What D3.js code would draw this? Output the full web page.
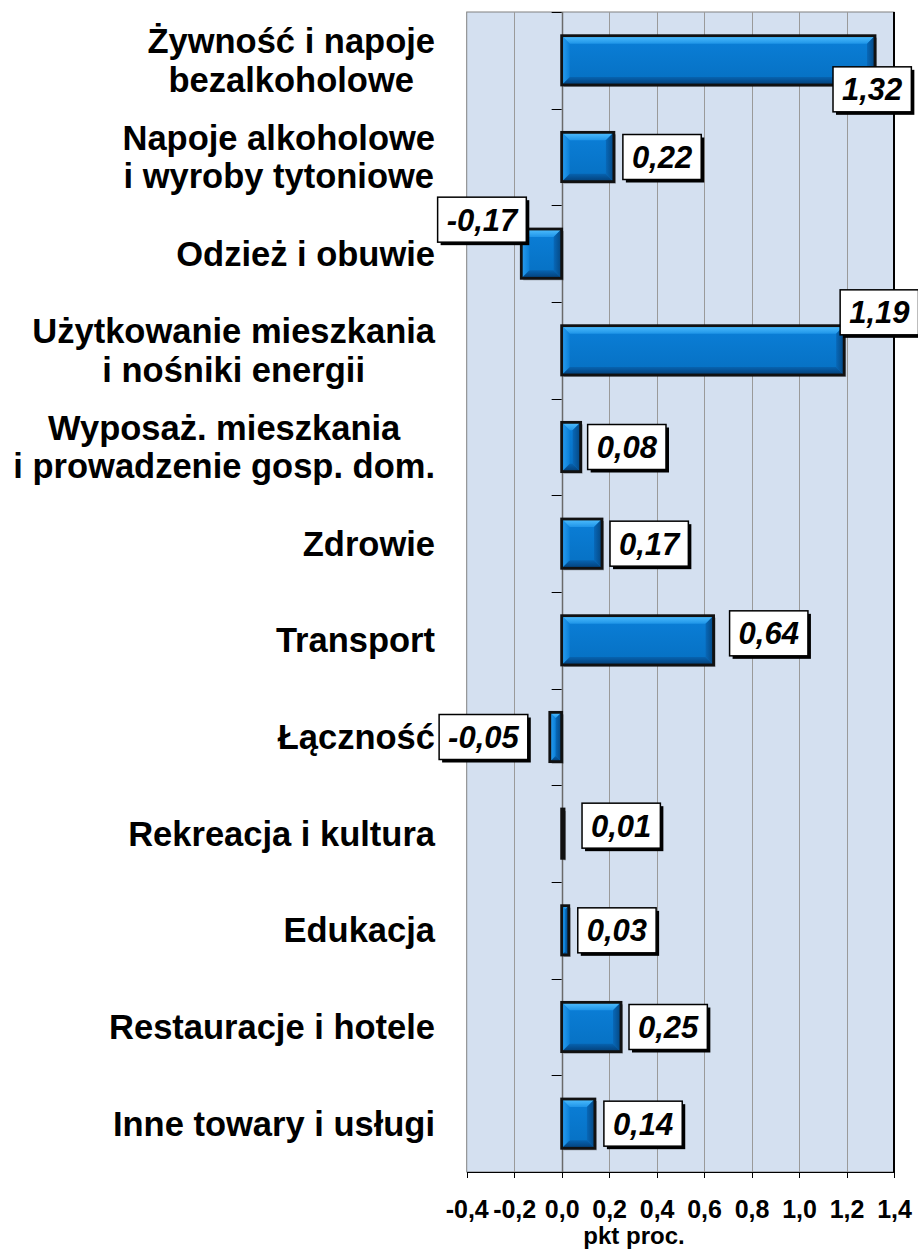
<!DOCTYPE html>
<html>
<head>
<meta charset="utf-8">
<title>Wkład do wskaźnika cen</title>
<style>
body {
  margin: 0;
  background: #fff;
  font-family: "Liberation Sans", Arial, sans-serif;
}
.cat-label {
  font-size: 34.5px;
  font-weight: 700;
  fill: #000;
}
.x.axis text {
  font-size: 25px;
  font-weight: 700;
  fill: #000;
  font-family: "Liberation Sans", Arial, sans-serif;
}
.x.axis path, .x.axis line {
  stroke: #000;
  shape-rendering: crispEdges;
}
.value-label {
  font-size: 31px;
  font-weight: 700;
  font-style: italic;
}
.axis-title {
  font-size: 24px;
  font-weight: 700;
}
</style>
</head>
<body>
<div id="vis"></div>
<script src="https://d3js.org/d3.v7.min.js"></script>
<script>

// Data
var categories = [
  ["Żywność i napoje", "bezalkoholowe"],
  ["Napoje alkoholowe", "i wyroby tytoniowe"],
  ["Odzież i obuwie"],
  ["Użytkowanie mieszkania", "i nośniki energii"],
  ["Wyposaż. mieszkania", "i prowadzenie gosp. dom."],
  ["Zdrowie"],
  ["Transport"],
  ["Łączność"],
  ["Rekreacja i kultura"],
  ["Edukacja"],
  ["Restauracje i hotele"],
  ["Inne towary i usługi"]
];
var values = [1.32, 0.22, -0.17, 1.19, 0.08, 0.17, 0.64, -0.05, 0.01, 0.03, 0.25, 0.14];
var xTicks = [-0.4, -0.2, 0.0, 0.2, 0.4, 0.6, 0.8, 1.0, 1.2, 1.4];
var xTitle = "pkt proc.";

// Label boxes were placed by hand in the original, nudge them the same way
// [dx from bar end, dy from band centre]
var labelNudge = [
  [-42, 29], [9, 0], [-5, -34], [-4, -38], [7, 0], [8, 0],
  [16, -7], [22, 0], [18, -8], [9, 0], [8, 0], [9, 0]
];

var width = 918, height = 1249;
var plot = {left: 466.7, right: 894, top: 12, bottom: 1172};

var pl = d3.formatLocale({decimal: ",", thousands: " ", grouping: [3], currency: ["", ""], minus: "-"});
var fmtTick = pl.format(".1f"),
    fmtVal = pl.format(".2f");

var svg = d3.select("#vis").append("svg")
    .attr("width", width)
    .attr("height", height);

var defs = svg.append("defs");
function grad(id, x2, y2, stops) {
  var g = defs.append("linearGradient").attr("id", id)
    .attr("x1", 0).attr("y1", 0).attr("x2", x2).attr("y2", y2);
  stops.forEach(function(s) {
    g.append("stop").attr("offset", s[0]).attr("stop-color", s[1]);
  });
}
grad("face", 0, 1, [[0, "#0b7fd8"], [1, "#0670c2"]]);
grad("bevTop", 0, 1, [[0, "#52c0ff"], [1, "#1f95e8"]]);
grad("bevBot", 0, 1, [[0, "#0763b0"], [1, "#033e76"]]);
grad("bevLeft", 1, 0, [[0, "#2a9ef0"], [1, "#0b80d8"]]);
grad("bevRight", 1, 0, [[0, "#0868b8"], [1, "#044680"]]);

var x = d3.scaleLinear()
    .domain([-0.4, 1.4])
    .range([plot.left, plot.right]);

var y = d3.scaleBand()
    .domain(d3.range(categories.length))
    .range([plot.top, plot.bottom])
    .paddingInner(0.49)
    .paddingOuter(0.245);

// Plot background
svg.append("rect")
    .attr("x", plot.left).attr("y", plot.top)
    .attr("width", plot.right - plot.left).attr("height", plot.bottom - plot.top)
    .attr("fill", "#d4e0f0")
    .attr("stroke", "#808080");

// Grid
svg.append("g").selectAll("line")
  .data(xTicks.filter(function(d) { return d > -0.4 && d < 1.4; }))
  .enter().append("line")
    .attr("x1", function(d) { return Math.round(x(d)) + 0.5; })
    .attr("x2", function(d) { return Math.round(x(d)) + 0.5; })
    .attr("y1", plot.top).attr("y2", plot.bottom)
    .attr("stroke", function(d) { return d === 0 ? "#6a6a6a" : "#9a9a9a"; })
    .attr("stroke-width", function(d) { return d === 0 ? 1.5 : 1; });

svg.append("line")
    .attr("x1", plot.right).attr("x2", plot.right)
    .attr("y1", plot.top).attr("y2", plot.bottom)
    .attr("stroke", "#000").attr("stroke-width", 2);

// Category ticks on the zero line
var step = y.step();
svg.append("g").selectAll("line")
  .data(d3.range(categories.length + 1))
  .enter().append("line")
    .attr("x1", x(0) - 10).attr("x2", x(0))
    .attr("y1", function(i) { return Math.round(plot.top + i * step) + 0.5; })
    .attr("y2", function(i) { return Math.round(plot.top + i * step) + 0.5; })
    .attr("stroke", "#000");

// X axis
var xAxis = d3.axisBottom(x)
    .tickValues(xTicks)
    .tickSize(6)
    .tickPadding(22)
    .tickFormat(fmtTick);

svg.append("g")
    .attr("class", "x axis")
    .attr("transform", "translate(0," + plot.bottom + ")")
    .call(xAxis);

svg.append("text")
    .attr("class", "axis-title")
    .attr("x", 634).attr("y", 1244)
    .attr("text-anchor", "middle")
    .text(xTitle);

// Category labels
var lineH = 38.5;
svg.append("g").selectAll("text")
  .data(categories)
  .enter().append("text")
    .attr("class", "cat-label")
    .attr("text-anchor", "middle")
    .each(function(lines, i) {
      var t = d3.select(this);
      var cy = y(i) + y.bandwidth() / 2;
      // measure widest line to right-align the block
      var tmp = svg.append("text").attr("class", "cat-label");
      var w = d3.max(lines, function(l) { tmp.text(l); return tmp.node().getComputedTextLength(); });
      tmp.remove();
      var cx = 435 - w / 2;
      lines.forEach(function(l, k) {
        t.append("tspan")
          .attr("x", cx)
          .attr("y", cy + (k - (lines.length - 1) / 2) * lineH + 12)
          .text(l);
      });
    });

// Bars with bevel
var bars = svg.append("g");
values.forEach(function(v, i) {
  var x0 = x(Math.min(0, v)), x1 = x(Math.max(0, v));
  var y0 = y(i), y1 = y(i) + y.bandwidth();
  var g = bars.append("g");
  g.append("rect")
    .attr("x", x0 + 2).attr("y", y0 + 2)
    .attr("width", x1 - x0).attr("height", y1 - y0)
    .attr("fill", "rgba(0,0,0,0.3)");
  var b = Math.min(8, (x1 - x0) / 2, (y1 - y0) / 2);
  function poly(pts, fill) {
    g.append("path")
      .attr("d", "M" + pts.map(function(p) { return p.join(","); }).join("L") + "Z")
      .attr("fill", fill);
  }
  poly([[x0, y0], [x1, y0], [x1, y1], [x0, y1]], "url(#face)");
  poly([[x0, y0], [x1, y0], [x1 - b, y0 + b], [x0 + b, y0 + b]], "url(#bevTop)");
  poly([[x0, y1], [x1, y1], [x1 - b, y1 - b], [x0 + b, y1 - b]], "url(#bevBot)");
  poly([[x0, y0], [x0 + b, y0 + b], [x0 + b, y1 - b], [x0, y1]], "url(#bevLeft)");
  poly([[x1, y0], [x1 - b, y0 + b], [x1 - b, y1 - b], [x1, y1]], "url(#bevRight)");
  g.append("rect")
    .attr("x", x0).attr("y", y0)
    .attr("width", x1 - x0).attr("height", y1 - y0)
    .attr("fill", "none")
    .attr("stroke", "#111")
    .attr("stroke-width", 2.8);
});

// Value labels in boxes
var labels = svg.append("g");
values.forEach(function(v, i) {
  var g = labels.append("g");
  var txt = g.append("text")
    .attr("class", "value-label")
    .attr("text-anchor", "middle")
    .text(fmtVal(v));
  var tw = txt.node().getComputedTextLength();
  var bw = tw + 18, bh = 45;
  var cy = y(i) + y.bandwidth() / 2 + labelNudge[i][1];
  var left = v >= 0 ? x(v) + labelNudge[i][0] : x(v) - labelNudge[i][0] - bw;
  g.insert("rect", "text")
    .attr("x", left + 3).attr("y", cy - bh / 2 + 3)
    .attr("width", bw).attr("height", bh)
    .attr("fill", "#000");
  g.insert("rect", "text")
    .attr("x", left).attr("y", cy - bh / 2)
    .attr("width", bw).attr("height", bh)
    .attr("fill", "#fff")
    .attr("stroke", "#000")
    .attr("stroke-width", 1.5);
  txt.attr("x", left + bw / 2).attr("y", cy + 11);
});

</script>
</body>
</html>
